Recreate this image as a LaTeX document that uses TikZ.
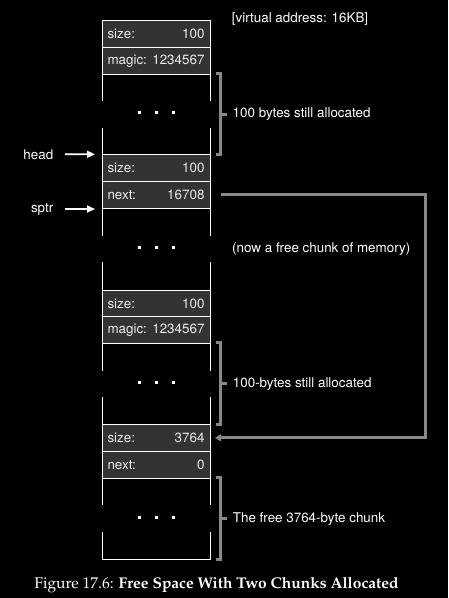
\documentclass[tikz,border=0pt]{standalone}
\usepackage[T1]{fontenc}
\usepackage{fontspec}
\setmainfont{TeX Gyre Heros}
\usetikzlibrary{arrows.meta}
\definecolor{cellgray}{RGB}{51,51,51}
\definecolor{brkgray}{RGB}{136,136,136}
\definecolor{celltext}{RGB}{235,235,235}
\newcommand{\lblfont}{\fontsize{13.4}{16}\selectfont}
\newcommand{\palcap}{\fontencoding{T1}\fontfamily{ppl}\fontsize{15.5}{18}\selectfont}
\newcommand{\holedots}{\raisebox{1.5pt}[3pt][0pt]{\rule{3pt}{3pt}\hspace{14pt}\rule{3pt}{3pt}\hspace{14pt}\rule{3pt}{3pt}}}
\begin{document}
\begin{tikzpicture}[x=1pt,y=-1pt,
  lbl/.style={font=\lblfont, text=white, inner sep=0pt},
  cell/.style={draw=white, fill=cellgray, line width=1pt, outer sep=0pt, minimum width=108pt,
    inner xsep=5.5pt, inner ysep=0pt, text width=97pt, font=\lblfont, text=celltext, anchor=north},
  hole/.style={draw=white, line width=1pt, outer sep=0pt, minimum width=108pt, inner sep=0pt, anchor=north},
  gap/.style={fill=black, text=white, minimum width=116pt, minimum height=26.6pt, inner sep=0pt},
  brk/.style={draw=brkgray, line width=3pt},
  ptr/.style={draw=white, line width=1.7pt, -{Triangle[length=8pt,width=7pt]}},
  link/.style={draw=brkgray, line width=3pt, -{Triangle[length=6pt,width=7pt]}}]
\fill[black] (0,0) rectangle (448,598);
\useasboundingbox (0,0) rectangle (448,598);

% first allocated chunk
\node[cell, minimum height=27.5pt] (s1) at (156,20) {size:\hfill 100};
\node[cell, minimum height=26.8pt] (m1) at (s1.south) {magic:\hfill 1234567};
\node[hole, minimum height=80pt] (d1) at (m1.south) {};
\node[gap] (g1) at (d1.center) {\holedots};
% free chunk
\node[cell, minimum height=27.2pt] (s2) at (d1.south) {size:\hfill 100};
\node[cell, minimum height=26.8pt] (n2) at (s2.south) {next:\hfill 16708};
\node[hole, minimum height=81.7pt] (d2) at (n2.south) {};
\node[gap] (g2) at (d2.center) {\holedots};
% second allocated chunk
\node[cell, minimum height=26.7pt] (s3) at (d2.south) {size:\hfill 100};
\node[cell, minimum height=26.6pt] (m3) at (s3.south) {magic:\hfill 1234567};
\node[hole, minimum height=81pt] (d3) at (m3.south) {};
\node[gap] (g3) at (d3.center) {\holedots};
% big free chunk
\node[cell, minimum height=27pt] (s4) at (d3.south) {size:\hfill 3764};
\node[cell, minimum height=27pt] (n4) at (s4.south) {next:\hfill 0};
\node[hole, minimum height=80.7pt] (d4) at (n4.south) {};
\node[gap] (g4) at (d4.center) {\holedots};

% labels
\node[lbl, anchor=west] (va) at (231.7,19.3) {[virtual address: 16KB]};
\node[lbl, anchor=west] (t1) at ([xshift=22.5pt]d1.east) {100 bytes still allocated};
\node[lbl, anchor=west] (t2) at ([xshift=22pt]d2.east) {(now a free chunk of memory)};
\node[lbl, anchor=west] (t3) at ([xshift=22.7pt]d3.east) {100-bytes still allocated};
\node[lbl, anchor=west] (t4) at ([xshift=22.7pt]d4.east) {The free 3764-byte chunk};

% brackets
\foreach \d in {d1,d3,d4}{
  \draw[brk] ([xshift=5.7pt,yshift=0.8pt]\d.north east) -| ([xshift=10.8pt]\d.south east) -- ([xshift=5.7pt]\d.south east);
  \draw[brk] ([xshift=10.8pt]\d.east) -- ([xshift=16.7pt]\d.east);
}

% pointers
\node[lbl, anchor=east] (head) at (53.5,154.3) {head};
\node[lbl, anchor=east] (sptr) at (53.5,209) {sptr};
\draw[ptr] ([xshift=11.5pt]head.east) -- ([xshift=-7pt]s2.north west);
\draw[ptr] ([xshift=11.5pt]sptr.east) -- ([xshift=-7pt]sptr.east -| n2.west);

% next link
\coordinate (xr) at (425.7,0);
\draw[link] ([xshift=11pt]n2.east) -- (n2.east -| xr) -- (s4.east -| xr) -- ([xshift=5pt]s4.east);

% caption
\node[text=white, inner sep=0pt] (cap) at (216.5,585) {\palcap Figure 17.6: \textbf{Free Space With Two Chunks Allocated}};
\end{tikzpicture}
\end{document}
